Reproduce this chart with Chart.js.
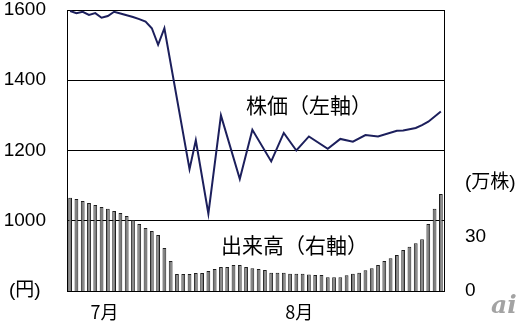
<!DOCTYPE html>
<html lang="ja">
<head>
<meta charset="utf-8">
<title>株価と出来高</title>
<script src="https://cdn.jsdelivr.net/npm/chart.js@4/dist/chart.umd.min.js"></script>
<style>
    html, body { margin: 0; padding: 0; background: #fff; }
    #chart-wrap { width: 523px; height: 324px; position: relative; }
</style>
</head>
<body>
<div id="chart-wrap"><canvas id="price-chart"></canvas></div>
<script>
// Daily categories, 6/26 - 8/24
const days = [
    '6/26', '6/27', '6/28', '6/29', '6/30',
    '7/1', '7/2', '7/3', '7/4', '7/5', '7/6', '7/7', '7/8', '7/9', '7/10',
    '7/11', '7/12', '7/13', '7/14', '7/15', '7/16', '7/17', '7/18', '7/19', '7/20',
    '7/21', '7/22', '7/23', '7/24', '7/25', '7/26', '7/27', '7/28', '7/29', '7/30', '7/31',
    '8/1', '8/2', '8/3', '8/4', '8/5', '8/6', '8/7', '8/8', '8/9', '8/10',
    '8/11', '8/12', '8/13', '8/14', '8/15', '8/16', '8/17', '8/18', '8/19', '8/20',
    '8/21', '8/22', '8/23', '8/24'
];

// 株価 (円), null = no point that day
const price = [
    1597, 1591, 1595, 1586, 1591, 1578, 1583, 1595, 1590, 1585,
    1580, 1574, 1567, 1548, 1501, 1548, null, null, null, 1147,
    1229, null, 1020, null, 1300, null, null, 1119, null, 1259,
    null, null, 1169, null, 1250, null, 1200, null, 1240, null,
    null, 1205, null, 1233, null, 1225, null, 1244, null, 1240,
    null, null, 1256, 1257, null, 1264, 1272, 1282, null, 1311
];

// 出来高 (万株)
const volume = [
    51.7, 51.1, 50.0, 48.9, 47.8, 46.7, 45.6, 44.4, 43.3, 41.7,
    39.4, 37.2, 35.0, 33.3, 31.1, 23.9, 16.7, 9.4, 9.4, 9.4,
    10.0, 10.0, 11.1, 12.2, 13.3, 13.3, 14.4, 14.4, 13.3, 12.6,
    12.2, 11.7, 10.2, 10.2, 10.2, 9.6, 9.6, 9.6, 9.1, 8.9,
    8.9, 7.6, 7.6, 7.6, 8.7, 9.6, 10.2, 11.5, 12.6, 14.4,
    16.7, 18.2, 20.0, 22.8, 24.6, 26.5, 28.7, 37.2, 45.6, 53.9
];

// Axis tick labels
const priceTicks = { 800: '(円)', 1000: '1000', 1200: '1200', 1400: '1400', 1600: '1600' };
const volumeTicks = { 0: '0', 30: '30', 60: '(万株)' };
const monthTicks = { '7/1': '7月', '8/1': '8月' };

const NUM_FONT = '"Liberation Sans", "Noto Sans CJK JP", sans-serif';
const JP_FONT = '"Noto Sans CJK JP", sans-serif';

// Series captions drawn inside the plot
const seriesLabels = {
    id: 'seriesLabels',
    afterDatasetsDraw(chart) {
        const { ctx, scales } = chart;
        ctx.save();
        ctx.fillStyle = '#000';
        ctx.font = '21px ' + JP_FONT;
        ctx.textAlign = 'left';
        ctx.textBaseline = 'middle';
        ctx.fillText('株価（左軸）', scales.x.getPixelForValue(28), scales.yL.getPixelForValue(1330));
        ctx.fillText('出来高（右軸）', scales.x.getPixelForValue(24), scales.yR.getPixelForValue(25.6));

        // site mark, bottom right
        ctx.fillStyle = '#a3a3a3';
        ctx.font = 'italic bold 25px "DejaVu Serif", serif';
        ctx.textBaseline = 'alphabetic';
        ctx.fillText('ai', 491, 313);
        ctx.restore();
    }
};

// fixed axis boxes so the plot area lands where the original has it
function fixVertical(width) {
    return (scale) => {
        scale.width = width;
        scale.paddingTop = 0;
        scale.paddingBottom = 0;
    };
}

function buildConfig() {
    return {
        data: {
            labels: days,
            datasets: [{
                type: 'line',
                label: '株価',
                data: price,
                yAxisID: 'yL',
                borderColor: '#1c1f5c',
                borderWidth: 2,
                pointRadius: 0,
                tension: 0,
                spanGaps: true,
                order: 0
            }, {
                type: 'bar',
                label: '出来高',
                data: volume,
                yAxisID: 'yR',
                backgroundColor: '#7f7f7f',
                borderColor: '#1e1e1e',
                borderWidth: 1,
                barPercentage: 0.6,
                categoryPercentage: 1,
                order: 1
            }]
        },
        options: {
            responsive: true,
            maintainAspectRatio: false,
            animation: false,
            layout: { padding: { top: 10, left: 0, right: 0, bottom: 0 } },
            plugins: {
                legend: { display: false },
                tooltip: { enabled: false }
            },
            scales: {
                x: {
                    grid: { display: false, drawTicks: false },
                    border: { display: true, color: '#000', width: 1 },
                    ticks: {
                        autoSkip: false,
                        maxRotation: 0,
                        padding: 10,
                        labelOffset: 3,
                        color: '#000',
                        font: { family: JP_FONT, size: 18, lineHeight: 1.2 },
                        callback: (val, i) => monthTicks[days[i]] || ''
                    },
                    afterFit: (scale) => {
                        scale.height = 33;
                        scale.paddingLeft = 0;
                        scale.paddingRight = 0;
                    }
                },
                yL: {
                    position: 'left',
                    min: 800,
                    max: 1600,
                    grid: { color: '#000', lineWidth: 1, drawTicks: false },
                    border: { display: true, color: '#000', width: 1 },
                    ticks: {
                        stepSize: 200,
                        padding: 21,
                        crossAlign: 'center',
                        color: '#000',
                        font: { family: NUM_FONT, size: 19, lineHeight: 1 },
                        callback: (val) => priceTicks[val] || ''
                    },
                    afterFit: fixVertical(67)
                },
                yR: {
                    position: 'right',
                    min: 0,
                    max: 156,
                    grid: { display: false, drawTicks: false },
                    border: { display: true, color: '#000', width: 1 },
                    ticks: {
                        stepSize: 30,
                        padding: 21,
                        color: '#000',
                        font: { family: NUM_FONT, size: 19, lineHeight: 1 },
                        callback: (val) => volumeTicks[val] || ''
                    },
                    afterFit: fixVertical(79)
                }
            }
        },
        plugins: [seriesLabels]
    };
}

document.addEventListener('DOMContentLoaded', () => {
    const ctx = document.getElementById('price-chart');
    if (ctx) {
        new Chart(ctx.getContext('2d'), buildConfig());
    }
});
</script>
</body>
</html>
